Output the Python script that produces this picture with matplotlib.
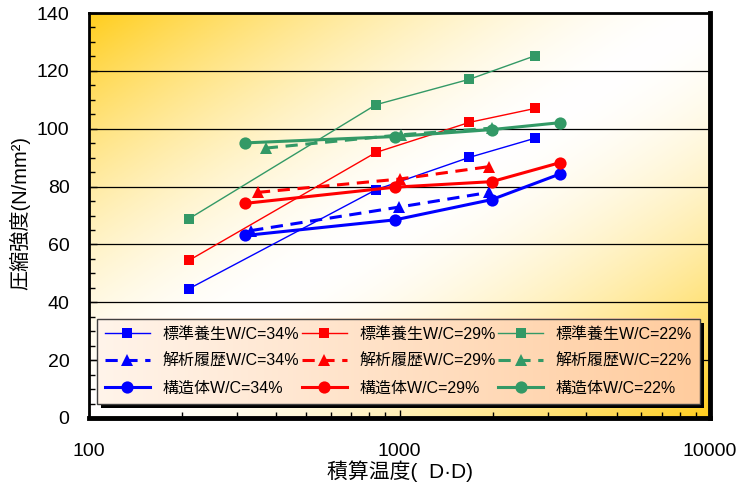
import numpy as np
import matplotlib
matplotlib.use("Agg")
import matplotlib.pyplot as plt
from matplotlib.patches import Rectangle
from matplotlib.ticker import MultipleLocator, FixedLocator, FixedFormatter, NullFormatter

plt.rcParams['font.family'] = ['Liberation Sans', 'Noto Sans CJK JP', 'DejaVu Sans']

# 標準養生 (standard curing)
std_x = [210, 840, 1680, 2730]
std34 = [44.7, 78.9, 90.1, 96.7]
std29 = [54.5, 91.8, 102.2, 107.0]
std22 = [68.9, 108.3, 117.1, 125.2]

# 解析履歴 (analysis history)
ana34_x = [333, 995, 1945]
ana34 = [64.8, 72.9, 78.0]
ana29_x = [350, 1000, 1945]
ana29 = [78.0, 82.6, 86.9]
ana22_x = [371, 1012, 1982]
ana22 = [93.3, 97.9, 100.2]

# 構造体 (structure)
str_x = [319, 968, 1982, 3296]
str34 = [63.1, 68.5, 75.5, 84.4]
str29 = [74.2, 79.8, 81.7, 88.3]
str22 = [95.1, 97.3, 99.7, 102.1]

colors = {'34': '#0000FF', '29': '#FF0000', '22': '#339966'}

fig = plt.figure(figsize=(7.37, 4.83), dpi=100)
ax = fig.add_axes([89 / 737, 1 - 418 / 483, 621 / 737, 405 / 483])

# diagonal gold-white-gold background (gold top-left and bottom-right)
u = np.linspace(0, 1, 300)
v = np.linspace(1, 0, 200)   # row 0 = top of axes
U, V = np.meshgrid(u, v)
t = (U + (1 - V)) / 2
f = np.clip(np.abs(t - 0.5) * 2, 0, 1) ** 1.6
gold = np.array([255, 206, 30]) / 255
img = 1 - f[..., None] * (1 - gold)
ax.imshow(img, extent=[0, 1, 0, 1], transform=ax.transAxes, aspect='auto', zorder=0)

series = [
    (std_x, std34, '34', 's', '-', 1.0, '標準養生W/C=34%'),
    (ana34_x, ana34, '34', '^', '--', 2.2, '解析履歴W/C=34%'),
    (str_x, str34, '34', 'o', '-', 2.2, '構造体W/C=34%'),
    (std_x, std29, '29', 's', '-', 1.0, '標準養生W/C=29%'),
    (ana29_x, ana29, '29', '^', '--', 2.2, '解析履歴W/C=29%'),
    (str_x, str29, '29', 'o', '-', 2.2, '構造体W/C=29%'),
    (std_x, std22, '22', 's', '-', 1.0, '標準養生W/C=22%'),
    (ana22_x, ana22, '22', '^', '--', 2.2, '解析履歴W/C=22%'),
    (str_x, str22, '22', 'o', '-', 2.2, '構造体W/C=22%'),
]

handles = []
for xs, ys, wc, mk, ls, lw, lab in series:
    ms = 7.8 if mk == 's' else 8.8
    h, = ax.plot(xs, ys, color=colors[wc], marker=mk, linestyle=ls, linewidth=lw,
                 markersize=ms, markeredgewidth=0, label=lab, zorder=3,
                 dashes=(4, 2.5) if ls == '--' else (None, None))
    handles.append(h)

ax.set_xscale('log')
ax.set_xlim(100, 10000)
ax.set_ylim(0, 140)
ax.yaxis.set_major_locator(MultipleLocator(20))
ax.yaxis.set_minor_locator(MultipleLocator(5))
ax.xaxis.set_major_locator(FixedLocator([100, 1000, 10000]))
ax.xaxis.set_major_formatter(FixedFormatter(['100', '1000', '10000']))
ax.xaxis.set_minor_formatter(NullFormatter())
ax.tick_params(axis='both', which='both', direction='in', top=False, right=False,
               color='black')
ax.tick_params(axis='both', which='major', length=6, width=1, labelsize=14)
ax.tick_params(axis='both', which='minor', length=4, width=1)
ax.tick_params(axis='y', which='major', pad=14)
ax.tick_params(axis='x', which='major', pad=18)

for y in [20, 40, 60, 80, 100, 120]:
    ax.axhline(y, color='black', linewidth=0.9, zorder=1)

for side in ['left', 'top']:
    ax.spines[side].set_linewidth(2)
for side in ['right', 'bottom']:
    ax.spines[side].set_linewidth(3.5)

fig.text(400 / 737, 1 - 471 / 483, '積算温度(  D·D)', ha='center', va='center', fontsize=15)
fig.text(20 / 737, 1 - 213 / 483, '圧縮強度(N/mm²)', ha='center', va='center',
         rotation=90, fontsize=14.5)

leg = ax.legend(handles=handles, ncol=3, loc='lower left', mode='expand',
                bbox_to_anchor=(0.013, 0.035, 0.971, 0.202), borderaxespad=0,
                fontsize=11.5, handlelength=2.8, labelspacing=0.75, borderpad=0.5,
                fancybox=False, facecolor='none', edgecolor='#404040', framealpha=1)
leg.get_frame().set_linewidth(1)
leg.set_zorder(6)

# legend backdrop: black shadow plus a peach gradient
fig.canvas.draw()
bb = leg.get_window_extent().transformed(ax.transAxes.inverted())
dx, dy = 4 / 621, 4 / 405
ax.add_patch(Rectangle((bb.x0 + dx, bb.y0 - dy), bb.width, bb.height,
                       transform=ax.transAxes, facecolor='black', edgecolor='none',
                       zorder=4.4, clip_on=False))
g = np.linspace(0, 1, 256)
c0 = np.array([255, 244, 234]) / 255
c1 = np.array([255, 204, 158]) / 255
lg = (c0[None, :] * (1 - g[:, None]) + c1[None, :] * g[:, None])[None, :, :]
ax.imshow(lg, extent=[bb.x0, bb.x1, bb.y0, bb.y1], transform=ax.transAxes,
          aspect='auto', zorder=4.6)
ax.set_xlim(100, 10000)
ax.set_ylim(0, 140)

fig.savefig('out.png', dpi=100)
